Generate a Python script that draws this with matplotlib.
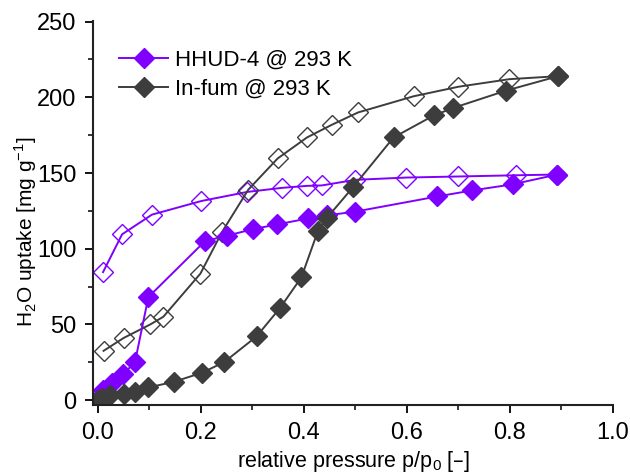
import matplotlib
matplotlib.use('Agg')
import matplotlib.pyplot as plt
from matplotlib.ticker import MultipleLocator

plt.rcParams['font.family'] = ['Liberation Sans', 'DejaVu Sans']

# HHUD-4 adsorption / desorption
hh_ads_x = [0.0, 0.010, 0.028, 0.049, 0.072, 0.098, 0.208, 0.251, 0.302, 0.348, 0.408, 0.445, 0.500, 0.659, 0.727, 0.805, 0.892]
hh_ads_y = [1, 6.6, 11, 17, 25, 68, 105, 108.6, 113, 116, 120, 122, 124.5, 134.5, 138.5, 142.5, 149]
hh_des_x = [0.892, 0.812, 0.700, 0.599, 0.500, 0.435, 0.406, 0.358, 0.290, 0.201, 0.105, 0.047, 0.010]
hh_des_y = [149, 148.5, 147.7, 147, 145.5, 141.8, 141.5, 140.2, 137.5, 131.5, 122.5, 109.5, 84.5]

# In-fum adsorption / desorption
if_ads_x = [0.0, 0.008, 0.024, 0.050, 0.072, 0.098, 0.147, 0.202, 0.245, 0.308, 0.354, 0.395, 0.427, 0.445, 0.495, 0.574, 0.652, 0.690, 0.793, 0.894]
if_ads_y = [0, 1.3, 3.3, 3.8, 5.5, 8.3, 12, 18, 25, 42, 61, 81, 111.5, 120.5, 140.5, 173.5, 188, 193, 204.5, 214]
if_des_x = [0.894, 0.799, 0.700, 0.613, 0.505, 0.455, 0.406, 0.349, 0.292, 0.241, 0.199, 0.127, 0.102, 0.050, 0.011]
if_des_y = [214, 212, 207, 200.7, 190, 182, 173.5, 159.6, 139, 111, 83.5, 55, 50, 41, 32.5]

purple = '#7f00ff'
dark = '#3d3d3d'

fig = plt.figure(figsize=(6.3, 4.75), dpi=100)
ax = fig.add_axes([0.148, 0.147, 0.825, 0.809])

ax.plot(hh_des_x, hh_des_y, '-', color=purple, lw=1.4, marker='D', ms=10.5,
        mfc='none', mec=purple, mew=1.0)
ax.plot(if_des_x, if_des_y, '-', color=dark, lw=1.4, marker='D', ms=10.5,
        mfc='none', mec=dark, mew=1.0)
ax.plot(hh_ads_x, hh_ads_y, '-', color=purple, lw=1.4, marker='D', ms=10.5,
        mfc=purple, mec=purple, label='HHUD-4 @ 293 K')
ax.plot(if_ads_x, if_ads_y, '-', color=dark, lw=1.4, marker='D', ms=10.5,
        mfc=dark, mec=dark, label='In-fum @ 293 K')

ax.set_xlim(-0.009, 1.0)
ax.set_ylim(-3.4, 250.5)
ax.xaxis.set_minor_locator(MultipleLocator(0.1))
ax.yaxis.set_major_locator(MultipleLocator(50))
ax.yaxis.set_minor_locator(MultipleLocator(25))
ax.set_xticks([0, 0.2, 0.4, 0.6, 0.8, 1.0])
ax.set_xticklabels(['0.0', '0.2', '0.4', '0.6', '0.8', '1.0'])

for s in ['top', 'right']:
    ax.spines[s].set_visible(False)
for s in ['left', 'bottom']:
    ax.spines[s].set_linewidth(1.5)
    ax.spines[s].set_color('#222222')

ax.tick_params(which='major', direction='out', length=6, width=1.3, labelsize=17, pad=6)
ax.tick_params(which='minor', direction='out', length=3.5, width=1.1)

ax.set_xlabel('relative pressure p/p$_\\mathregular{0}$ [–]', fontsize=15.5, labelpad=4)
ax.set_ylabel('H$_\\mathregular{2}$O uptake [mg g$^{\\mathregular{-1}}$]', fontsize=15)
ax.yaxis.set_label_coords(-0.105, 0.45)

ax.legend(loc='upper left', bbox_to_anchor=(0.02, 0.965), frameon=False, fontsize=16,
          handlelength=2.2, handletextpad=0.3, labelspacing=0.35, borderpad=0.2)

fig.savefig('out.png', dpi=100)
